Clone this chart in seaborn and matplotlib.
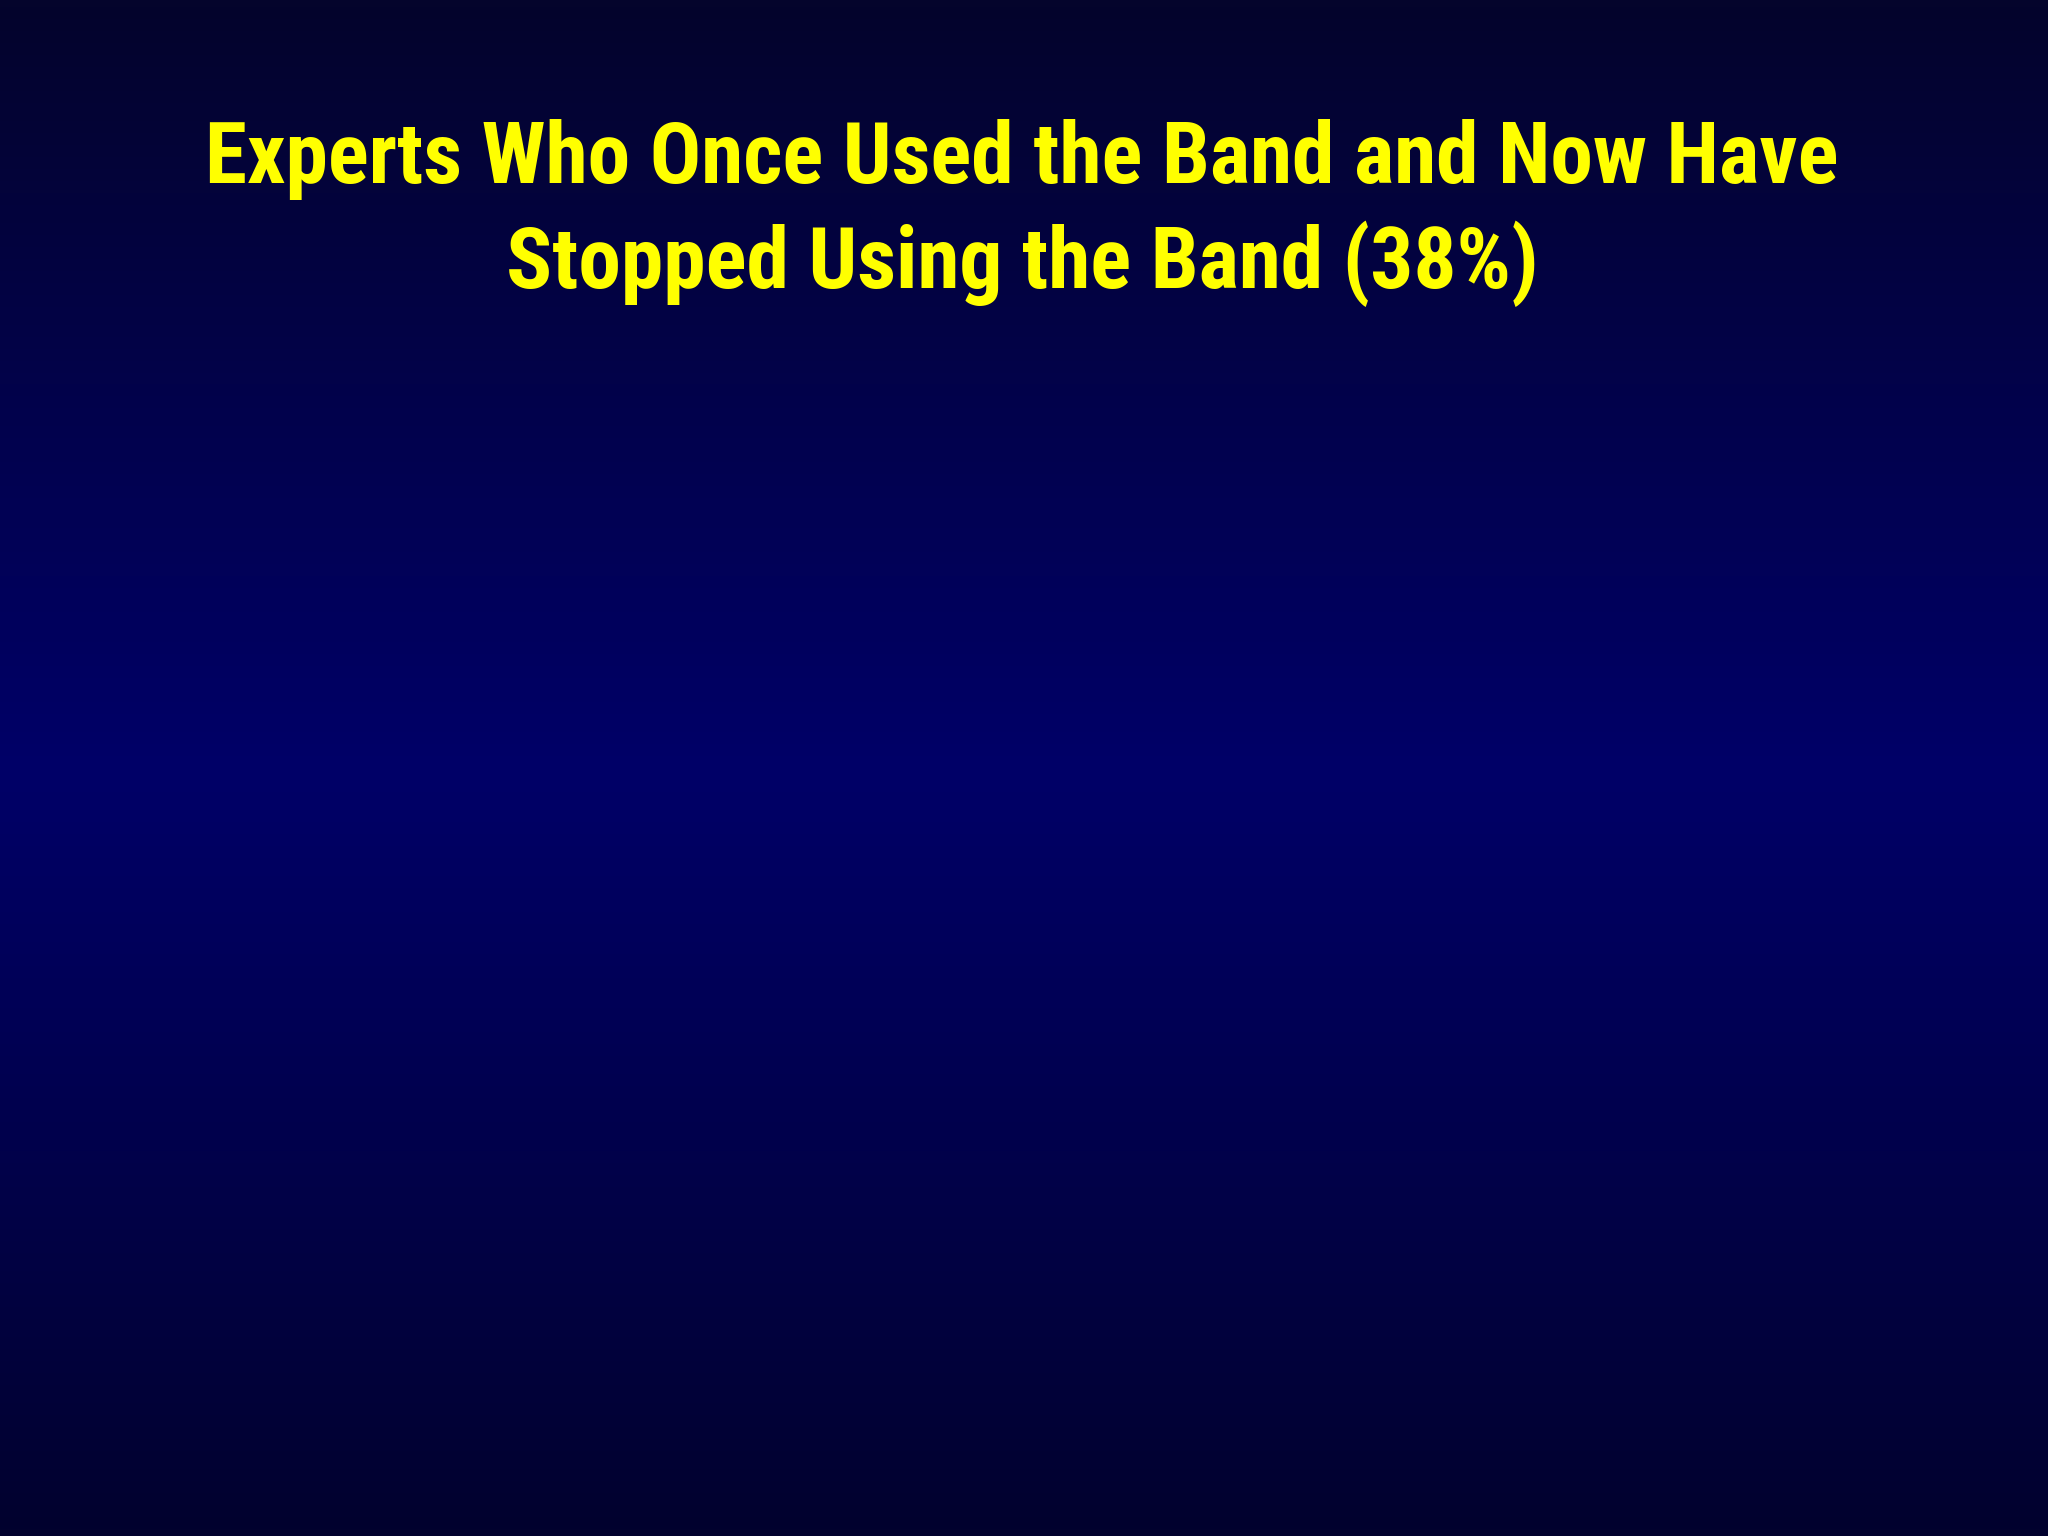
import numpy as np
import matplotlib
matplotlib.use("Agg")
import matplotlib.pyplot as plt
from matplotlib.colors import LinearSegmentedColormap
import seaborn as sns

title_lines = ["Experts Who Once Used the Band and Now Have",
               "Stopped Using the Band (38%)"]

sns.set_theme(style="white")
fonts = ['Roboto Condensed', 'Liberation Sans', 'DejaVu Sans']
plt.rcParams['font.family'] = fonts

fig = plt.figure(figsize=(20.48, 15.36), dpi=100)
bg = fig.add_axes([0, 0, 1, 1])
cmap = LinearSegmentedColormap.from_list(
    "slide", [(0.0, "#04042c"), (0.5, "#000068"), (1.0, "#02022e")])
grad = np.linspace(0, 1, 512).reshape(-1, 1)
bg.imshow(grad, aspect="auto", cmap=cmap, extent=[0, 1, 0, 1], origin="upper")
bg.set_xlim(0, 1)
bg.set_ylim(0, 1)
bg.axis("off")

baselines = [1 - 0.119, 1 - 0.1875]
for line, y in zip(title_lines, baselines):
    bg.text(0.499, y, line, ha="center", va="baseline", color="#ffff00",
            fontsize=61.5, fontweight="bold", family=fonts)

fig.savefig("out.png", dpi=100)
